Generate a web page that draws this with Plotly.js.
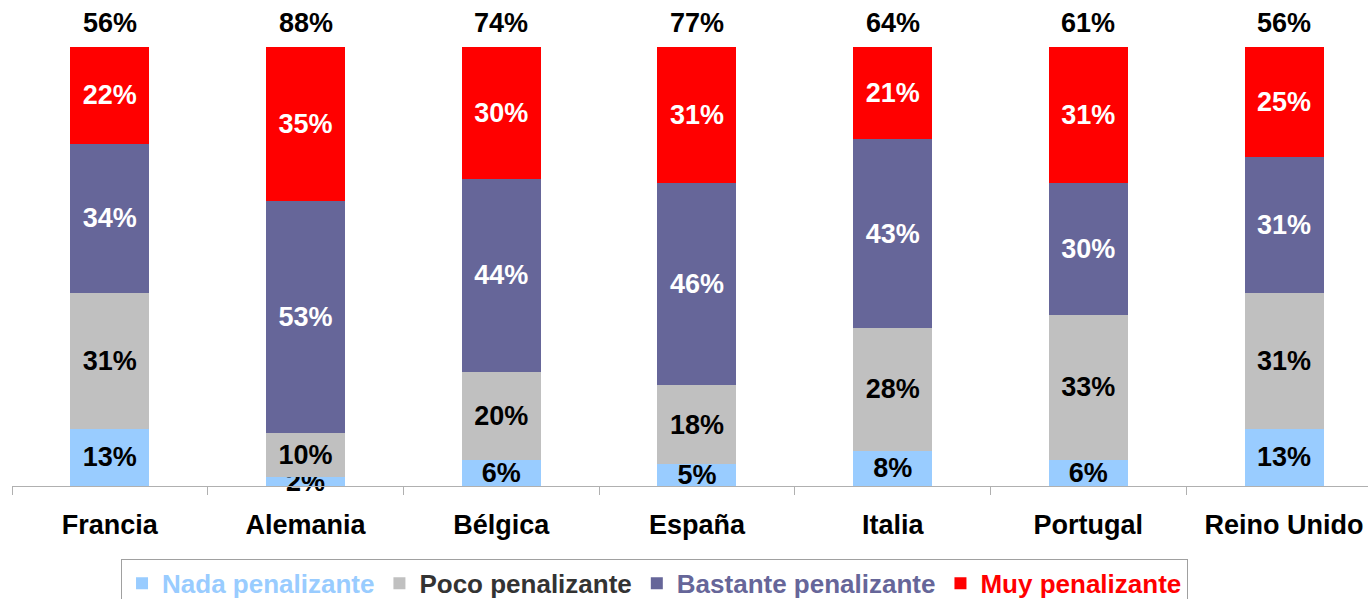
<!DOCTYPE html>
<html>
<head>
<meta charset="utf-8">
<script src="https://cdn.plot.ly/plotly-3.0.1.min.js"></script>
<style>
html,body{margin:0;padding:0;overflow:hidden;background:#fff;}
#chart{width:1368px;height:599px;}
</style>
</head>
<body>
<div id="chart"></div>
<script>
const countries = ["Francia","Alemania","Bélgica","España","Italia","Portugal","Reino Unido"];
const nada = [13, 2, 6, 5, 8, 6, 13];
const poco = [31, 10, 20, 18, 28, 33, 31];
const bastante = [34, 53, 44, 46, 43, 30, 31];
const muy = [22, 35, 30, 31, 21, 31, 25];
const totals = [56, 88, 74, 77, 64, 61, 56];
const seriesNames = ["Nada penalizante","Poco penalizante","Bastante penalizante","Muy penalizante"];
const colors = ["#99CCFF","#C0C0C0","#666699","#FF0000"];
const legendColors = ["#99CCFF","#333333","#666699","#FF0000"];
const textColors = ["#000000","#000000","#FFFFFF","#FFFFFF"];

const FONT = "Liberation Sans, Arial, sans-serif";
const FS = 27;
const data = [nada, poco, bastante, muy].map((vals, i) => ({
  type: "bar",
  x: countries,
  y: vals,
  name: '<b><span style="color:' + legendColors[i] + '">' + seriesNames[i] + '</span></b>',
  marker: {color: colors[i], line: {width: 0}},
  text: vals.map(v => v + "%"),
  textposition: "inside",
  insidetextanchor: "middle",
  constraintext: "none",
  textangle: 0,
  cliponaxis: false,
  textfont: {family: FONT, size: FS, color: textColors[i], weight: "bold"},
  hoverinfo: "skip"
}));

const annotations = countries.map((c, i) => ({
  x: c, y: 100, xref: "x", yref: "y",
  text: "<b>" + totals[i] + "%</b>",
  showarrow: false, yanchor: "bottom", yshift: 7,
  font: {family: FONT, size: FS, color: "#000000"}
}));

const layout = {
  width: 1368, height: 599,
  margin: {l: 12, r: 0, t: 47, b: 113, autoexpand: false},
  barmode: "stack",
  bargap: 0.596,
  paper_bgcolor: "#ffffff",
  plot_bgcolor: "#ffffff",
  showlegend: true,
  legend: {
    orientation: "h",
    x: 0.0804, xanchor: "left",
    y: -0.166, yanchor: "top",
    bordercolor: "#A0A0A0", borderwidth: 1,
    font: {family: FONT, size: 26},
    traceorder: "normal",
    itemclick: false
  },
  xaxis: {
    type: "category",
    range: [-0.5, 6.429],
    showline: true, linecolor: "#B0B0B0", linewidth: 1,
    ticks: "outside", tickson: "boundaries", ticklen: 8, tickcolor: "#B0B0B0",
    tickfont: {family: FONT, size: FS, color: "#000000", weight: "bold"},
    ticklabelstandoff: 15,
    showgrid: false, zeroline: false, fixedrange: true
  },
  yaxis: {
    range: [0, 100],
    visible: false, showgrid: false, zeroline: false, fixedrange: true
  },
  annotations: annotations
};

Plotly.newPlot("chart", data, layout, {displayModeBar: false, staticPlot: true});
</script>
</body>
</html>
